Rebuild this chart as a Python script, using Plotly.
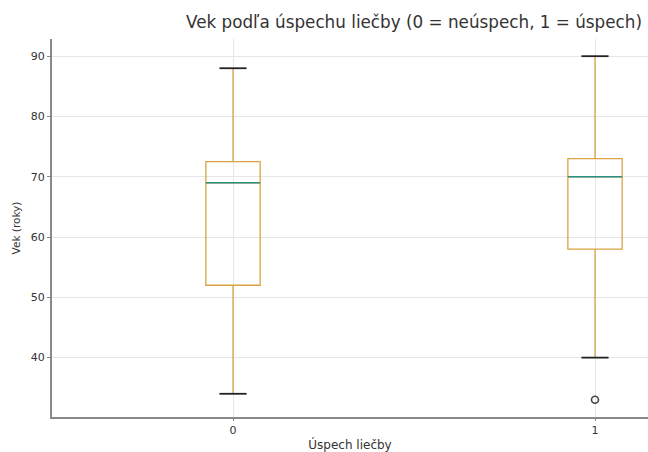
import plotly.graph_objects as go

# Data
groups = [0, 1]
group_labels = ["0", "1"]
lower_whisker = [34, 40]
q1 = [52, 58]
median = [69, 70]
q3 = [72.5, 73]
upper_whisker = [88, 90]
outlier_x = [1]
outlier_y = [33]

BOX_W = 0.15
CAP_W = BOX_W / 2
BOX_COLOR = "#d9a441"
MED_COLOR = "#2a8f84"
CAP_COLOR = "#222222"
FONT = "DejaVu Sans"

fig = go.Figure()

for i, g in enumerate(groups):
    fig.add_trace(go.Box(
        x=[g], q1=[q1[i]], median=[median[i]], q3=[q3[i]],
        lowerfence=[lower_whisker[i]], upperfence=[upper_whisker[i]],
        width=BOX_W, whiskerwidth=0, boxpoints=False,
        line=dict(color=BOX_COLOR, width=1.3),
        fillcolor="rgba(0,0,0,0)", showlegend=False, hoverinfo="skip",
    ))
    # median line
    fig.add_trace(go.Scatter(
        x=[g - BOX_W / 2, g + BOX_W / 2], y=[median[i], median[i]],
        mode="lines", line=dict(color=MED_COLOR, width=1.6),
        showlegend=False, hoverinfo="skip",
    ))
    # caps
    for v in (lower_whisker[i], upper_whisker[i]):
        fig.add_trace(go.Scatter(
            x=[g - CAP_W / 2, g + CAP_W / 2], y=[v, v],
            mode="lines", line=dict(color=CAP_COLOR, width=1.8),
            showlegend=False, hoverinfo="skip",
        ))

fig.add_trace(go.Scatter(
    x=outlier_x, y=outlier_y, mode="markers",
    marker=dict(symbol="circle-open", size=7, color="#444444", line=dict(width=1.6)),
    showlegend=False, hoverinfo="skip",
))

fig.update_layout(
    width=648, height=452,
    margin=dict(l=52, r=0, t=39, b=35),
    paper_bgcolor="white", plot_bgcolor="white",
    font=dict(family=FONT, color="#333333", size=11),
    title=dict(text="Vek podľa úspechu liečby (0 = neúspech, 1 = úspech)",
               x=0.6074, xanchor="center", xref="paper",
               y=1 - 22 / 452, yanchor="middle",
               font=dict(size=16.8, color="#333333", family=FONT)),
    xaxis=dict(
        range=[-0.5, 1.1464], tickvals=groups, ticktext=group_labels,
        showgrid=True, gridcolor="#e6e6e6", gridwidth=1,
        showline=True, linecolor="#888888", linewidth=2,
        ticks="outside", ticklen=2, tickcolor="#888888",
        tickfont=dict(size=11), zeroline=False,
        title=dict(text="Úspech liečby", font=dict(size=12), standoff=4),
    ),
    yaxis=dict(
        range=[30.15, 92.85], tickvals=[40, 50, 60, 70, 80, 90],
        showgrid=True, gridcolor="#e6e6e6", gridwidth=1,
        showline=True, linecolor="#888888", linewidth=2,
        ticks="outside", ticklen=3, tickcolor="#888888",
        tickfont=dict(size=11), zeroline=False,
        title=dict(text="Vek (roky)", font=dict(size=10.5), standoff=8),
    ),
)

# remove the browser's default 8px body margin so the figure fills the window
fig.write_html(
    "out.html",
    config={"displayModeBar": False},
    post_script=(
        "document.body.style.margin='0';"
        "document.body.style.overflow='hidden';"
        "document.documentElement.style.overflow='hidden';"
    ),
)
